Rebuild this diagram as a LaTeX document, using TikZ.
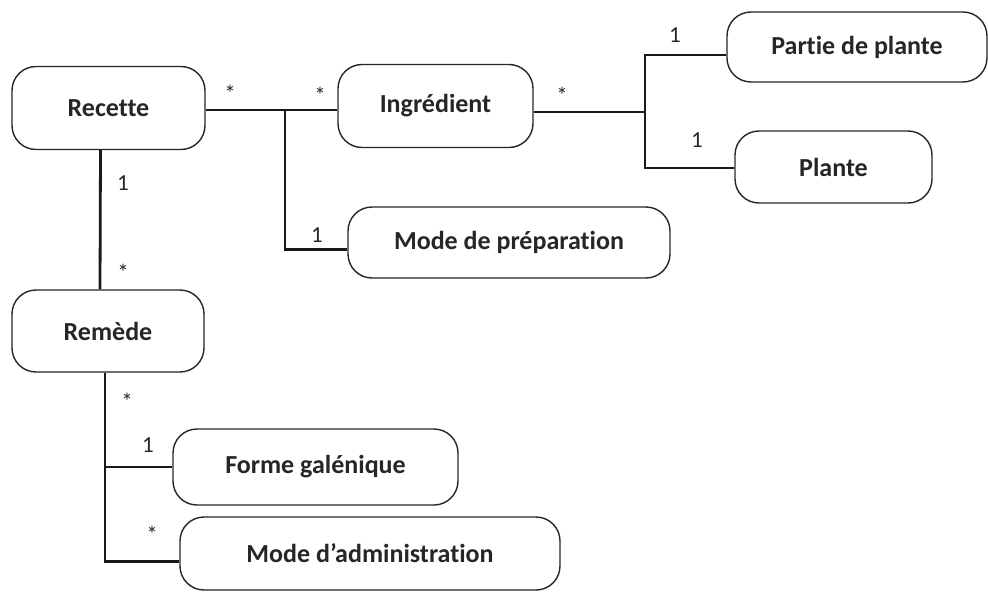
\documentclass[tikz,border=0pt]{standalone}
\usepackage{fontspec}
\setmainfont[Ligatures=NoCommon]{Carlito}
\begin{document}
\begin{tikzpicture}[x=1pt,y=-1pt,
  box/.style={draw=black!85, line width=1.4pt, rounded corners=24pt, fill=white,
    font=\fontsize{26}{30}\selectfont\bfseries, text=black!85, inner sep=0pt},
  conn/.style={draw=black!90, line width=2.8pt},
  mult/.style={font=\fontsize{23}{26}\selectfont, text=black!85, inner sep=0pt}]
\useasboundingbox (0,0) rectangle (988,594);
% boxes
\node[box, minimum width=193pt, minimum height=83pt] (recette) at (108.5,108) {Recette};
\node[box, minimum width=195pt, minimum height=83pt] (ingredient) at (435.5,106) {Ingrédient};
\node[box, minimum width=260pt, minimum height=70pt] (partie) at (857,47) {Partie de plante};
\node[box, minimum width=197pt, minimum height=72pt] (plante) at (833.5,167) {Plante};
\node[box, minimum width=322pt, minimum height=71pt] (modeprep) at (509,242.5) {Mode de préparation};
\node[box, minimum width=192pt, minimum height=82pt] (remede) at (108,331) {Remède};
\node[box, minimum width=285pt, minimum height=76pt] (forme) at (315.5,467) {Forme galénique};
\node[box, minimum width=380pt, minimum height=73pt] (admin) at (370,553.5) {Mode d’administration};
% junctions
\coordinate (j1) at (285,110);
\coordinate (j2) at (645,112);
\coordinate (r) at ([xshift=-3pt]remede.south);
% connectors
\draw[conn] ([yshift=-2pt]recette.east) -- (j1) -- ([yshift=-4pt]ingredient.west);
\draw[conn] (j1) |- ([yshift=-7pt]modeprep.west);
\draw[conn] ([yshift=-6pt]ingredient.east) -- (j2);
\draw[conn] ([yshift=-8pt]partie.west) -| (j2) |- ([yshift=-1pt]plante.west);
\draw[conn] ([xshift=-8pt]recette.south) -- ([xshift=-8pt]remede.north);
\draw[conn] (r) |- ([yshift=-8pt]admin.west);
\draw[conn] (forme.west) -- (forme.west -| r);
% multiplicities
\node[mult] (m1) at (230,93) {*};
\node[mult] (m2) at (320,95) {*};
\node[mult] (m3) at (562,95) {*};
\node[mult] (m4) at (675,35) {1};
\node[mult] (m5) at (697,140) {1};
\node[mult] (m6) at (317,235) {1};
\node[mult] (m7) at (123,183) {1};
\node[mult] (m8) at (123,272) {*};
\node[mult] (m9) at (127,401) {*};
\node[mult] (m10) at (148,445) {1};
\node[mult] (m11) at (152,534) {*};
\end{tikzpicture}
\end{document}
